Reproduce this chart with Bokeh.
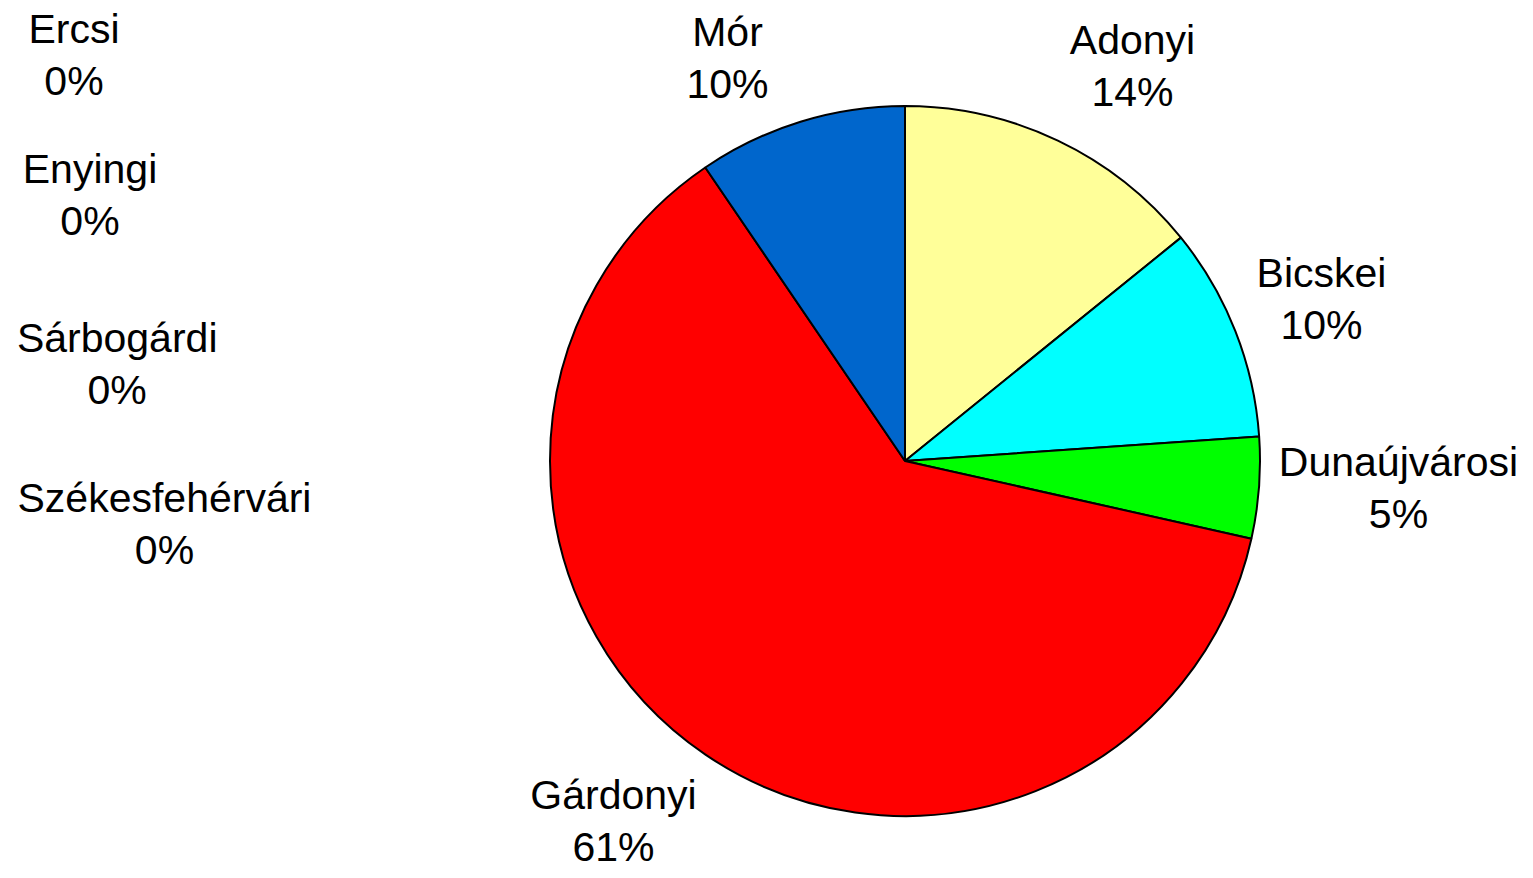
import math
from bokeh.plotting import figure
from bokeh.models import ColumnDataSource, Range1d
from bokeh.core.properties import value
from bokeh.embed import file_html
from bokeh.resources import INLINE

# ---- data ----
categories = ["Adonyi", "Bicskei", "Dunaújvárosi", "Enyingi", "Ercsi",
              "Gárdonyi", "Mór", "Sárbogárdi", "Székesfehérvári"]
shares = [14.17, 9.73, 4.61, 0.0, 0.0, 61.98, 9.51, 0.0, 0.0]
pct_labels = ["14%", "10%", "5%", "0%", "0%", "61%", "10%", "0%", "0%"]

# ---- styling / layout ----
slice_colors = ["#FFFF99", "#00FFFF", "#00FF00", "#9999FF", "#993366",
                "#FF0000", "#0066CC", "#FFFFCC", "#CCFFFF"]
# label anchors (centre x, first-line baseline y) in picture pixels
label_x = [1132, 1321, 1398, 89.5, 73.5, 613, 727, 116.7, 164]
label_y = [55, 288, 477, 184, 44, 810, 47, 353, 513]
line_gap = 52.5
text_shift = -16   # screen-pixel correction for the svg text baseline
cx, cy, radius = 904.5, 460.5, 355
W, H = 1525, 870

total = sum(shares)
starts, ends, cols = [], [], []
cum = 0.0
for s, c in zip(shares, slice_colors):
    a0 = math.pi / 2 - 2 * math.pi * cum / total
    cum += s
    a1 = math.pi / 2 - 2 * math.pi * cum / total
    if s > 0:
        starts.append(a0)
        ends.append(a1)
        cols.append(c)

p = figure(width=W, height=H, output_backend="svg", toolbar_location=None,
           x_range=Range1d(0, W), y_range=Range1d(-H, 0),
           min_border=0)
p.axis.visible = False
p.grid.visible = False
p.outline_line_color = None
p.background_fill_color = "white"
p.border_fill_color = "white"

wsrc = ColumnDataSource(dict(x=[cx] * len(starts), y=[-cy] * len(starts),
                             start=starts, end=ends, color=cols))
p.wedge(x="x", y="y", radius=radius, start_angle="start", end_angle="end",
        direction="clock", fill_color="color", line_color="black",
        line_width=2, source=wsrc)

tsrc = ColumnDataSource(dict(x=label_x,
                             y1=[-v for v in label_y],
                             y2=[-(v + line_gap) for v in label_y],
                             name=categories, pct=pct_labels))
for ycol, tcol in (("y1", "name"), ("y2", "pct")):
    p.text(x="x", y=ycol, text=tcol, source=tsrc, y_offset=text_shift,
           text_font=value("Liberation Sans"), text_font_size="41px",
           text_align="center", text_baseline="alphabetic", text_color="black")

open("out.html", "w").write(file_html(p, INLINE))
